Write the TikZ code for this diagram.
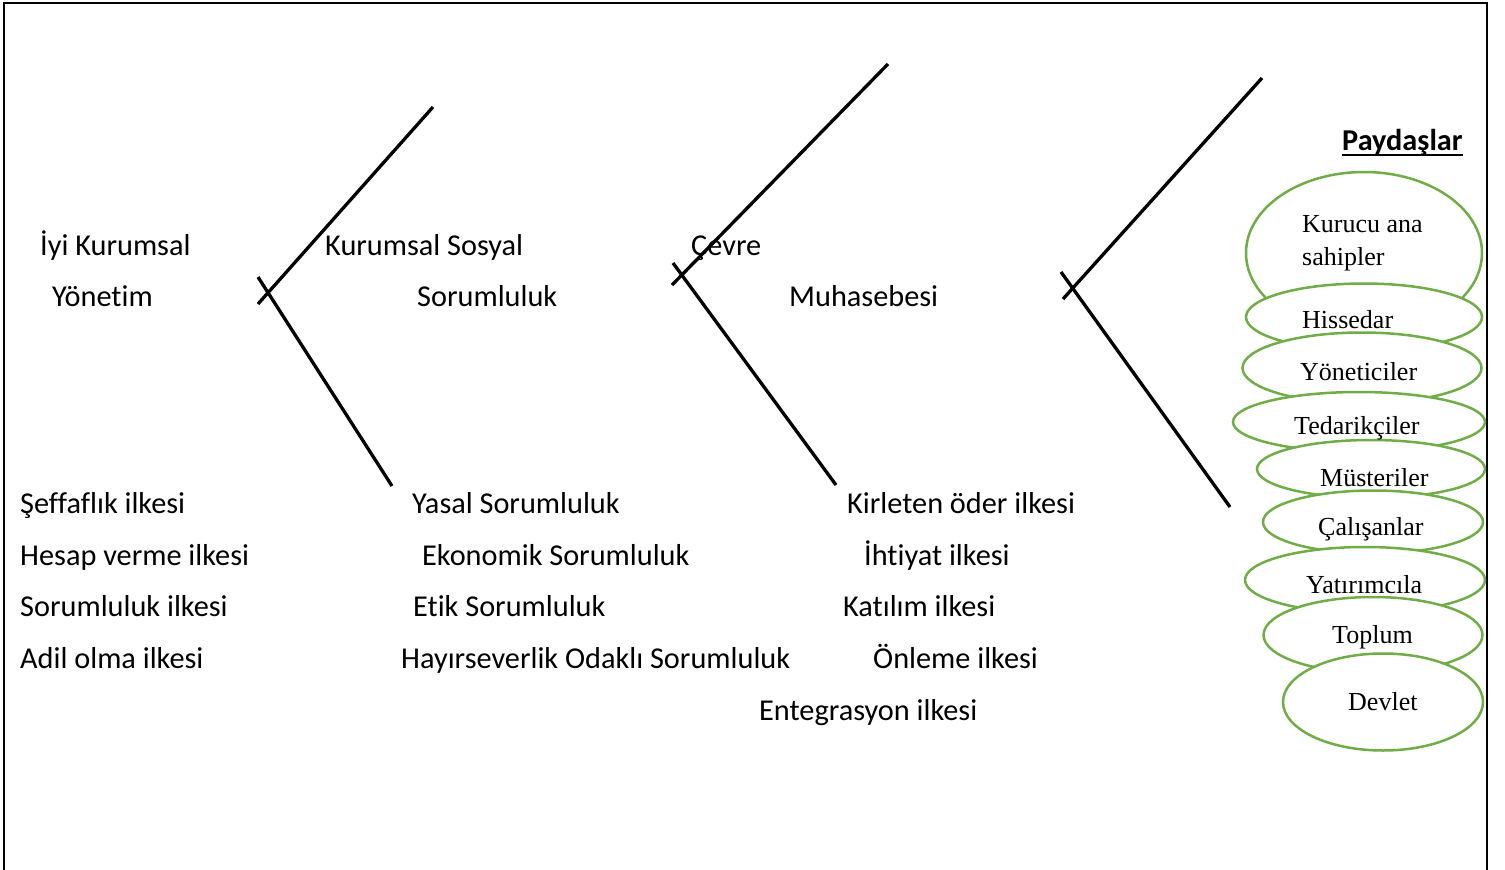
\documentclass[tikz,border=0pt]{standalone}
\usepackage{fontspec}
\setmainfont{Carlito}[Ligatures=NoCommon]
\newfontfamily\tnr{Liberation Serif}
\usetikzlibrary{shapes.geometric}
\definecolor{grn}{HTML}{70AD47}
\begin{document}
\begin{tikzpicture}[x=1pt,y=-1pt,
  lbl/.style={anchor=base west,inner sep=0pt,font=\fontsize{30.3}{36}\selectfont},
  elab/.style={anchor=base west,inner sep=0pt,font=\tnr\fontsize{26}{32}\selectfont},
  ell/.style={ellipse,draw=grn,line width=2.5pt,fill=white,inner sep=0pt},
  fork/.style={line width=3.3pt},
  frame/.style={line width=2.8pt}]
\useasboundingbox (0,0) rectangle (1505,870);
% frame
\draw[frame] (4,875) -- (4,3) -- (1487,3) -- (1487,875);
% forks
\coordinate (a1) at (258,304); \coordinate (a2) at (433,107);
\coordinate (b1) at (258,277); \coordinate (b2) at (392,486);
\draw[fork] (a1) -- (a2); \draw[fork] (b1) -- (b2);
\coordinate (c1) at (672,285); \coordinate (c2) at (888,64);
\coordinate (d1) at (673,263); \coordinate (d2) at (836,485);
\draw[fork] (c1) -- (c2); \draw[fork] (d1) -- (d2);
\coordinate (e1) at (1063,299); \coordinate (e2) at (1262,78);
\coordinate (f1) at (1061,272); \coordinate (f2) at (1230,507);
\draw[fork] (e1) -- (e2); \draw[fork] (f1) -- (f2);
% headings
\node[lbl] (h1a) at (40,255) {İyi Kurumsal};
\node[lbl] (h1b) at (52,306) {Yönetim};
\node[lbl] (h2a) at (325,255) {Kurumsal Sosyal};
\node[lbl] (h2b) at (417,306) {Sorumluluk};
\node[lbl] (h3a) at (691,255) {Çevre};
\node[lbl] (h3b) at (789,306) {Muhasebesi};
% column 1
\node[lbl] (p1) at (20,513) {Şeffaflık ilkesi};
\node[lbl] (p2) at (20,565) {Hesap verme ilkesi};
\node[lbl] (p3) at (20,616) {Sorumluluk ilkesi};
\node[lbl] (p4) at (20,668) {Adil olma ilkesi};
% column 2
\node[lbl] (s1) at (412,513) {Yasal Sorumluluk};
\node[lbl] (s2) at (422,565) {Ekonomik Sorumluluk};
\node[lbl] (s3) at (413,616) {Etik Sorumluluk};
\node[lbl] (s4) at (401,668) {Hayırseverlik Odaklı Sorumluluk};
% column 3
\node[lbl] (m1) at (847,513) {Kirleten öder ilkesi};
\node[lbl] (m2) at (864,565) {İhtiyat ilkesi};
\node[lbl] (m3) at (843,616) {Katılım ilkesi};
\node[lbl] (m4) at (873,668) {Önleme ilkesi};
\node[lbl] (m5) at (759,720) {Entegrasyon ilkesi};
% stakeholders
\node[lbl,font=\bfseries\fontsize{30.3}{36}\selectfont] (pt) at (1342,150) {Paydaşlar};
\draw[line width=2pt] ([yshift=-4.5pt]pt.base west) -- ([yshift=-4.5pt]pt.base east);
\node[ell,minimum width=236pt,minimum height=162pt] (e1n) at (1364,253) {};
\node[ell,minimum width=236pt,minimum height=67pt] (e2n) at (1364,317) {};
\node[ell,minimum width=239pt,minimum height=71pt] (e3n) at (1362,368) {};
\node[ell,minimum width=252pt,minimum height=60pt] (e4n) at (1359,422) {};
\node[ell,minimum width=228pt,minimum height=58pt] (e5n) at (1371,469) {};
\node[ell,minimum width=220pt,minimum height=63pt] (e6n) at (1373,522) {};
\node[ell,minimum width=240pt,minimum height=66pt] (e7n) at (1365,580) {};
\node[ell,minimum width=219pt,minimum height=76pt] (e8n) at (1373,635) {};
\node[ell,minimum width=200pt,minimum height=97pt] (e9n) at (1383,702) {};
\node[elab] (t1) at (1302,232) {Kurucu ana};
\node[elab] (t1b) at (1302,265) {sahipler};
\node[elab] (t2) at (1302,328) {Hissedar};
\node[elab] (t3) at (1300,380) {Yöneticiler};
\node[elab] (t4) at (1294,434) {Tedarikçiler};
\node[elab] (t5) at (1320,486) {Müsteriler};
\node[elab] (t6) at (1318,535) {Çalışanlar};
\node[elab] (t7) at (1306,593) {Yatırımcıla};
\node[elab] (t8) at (1332,643) {Toplum};
\node[elab] (t9) at (1348,710) {Devlet};
\end{tikzpicture}
\end{document}
